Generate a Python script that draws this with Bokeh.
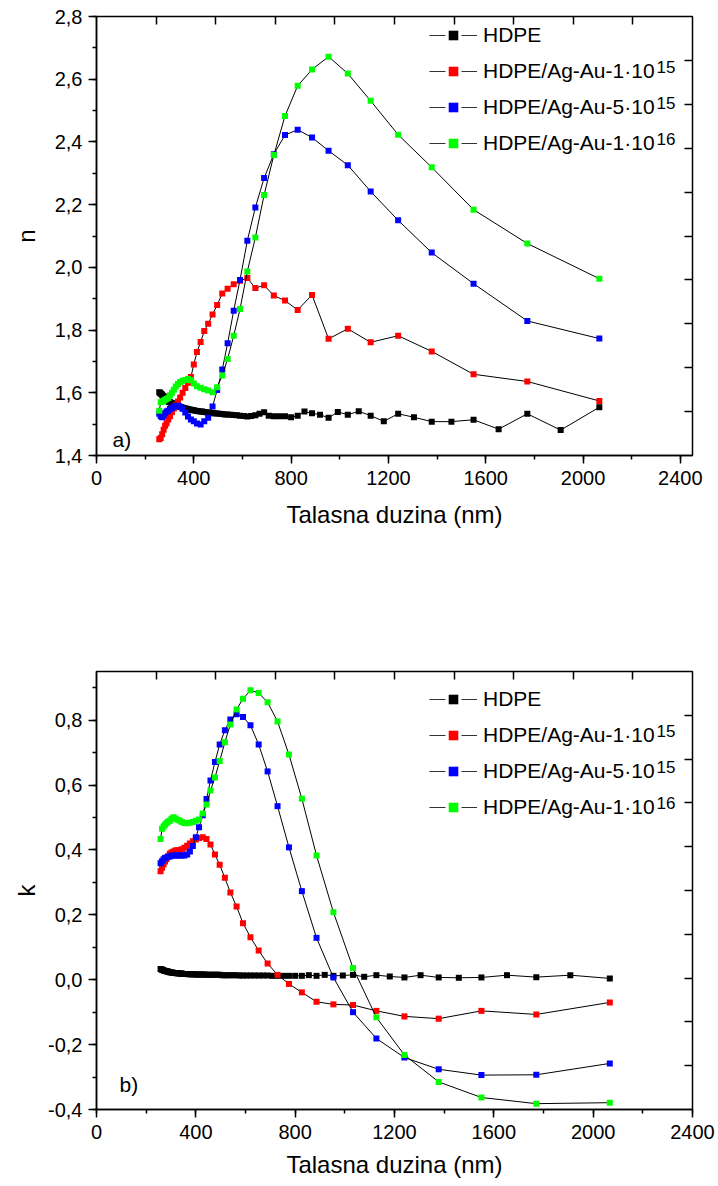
from bokeh.plotting import figure
from bokeh.models import (Range1d, LinearAxis, SingleIntervalTicker, FixedTicker,
                          CustomJSTickFormatter, Legend, LegendItem, Label)
from bokeh.layouts import column
from bokeh.embed import file_html
from bokeh.resources import INLINE

# ---------------- data ----------------
# wavelength grid (nm) of the implanted samples
wl_implanted = [258, 264, 270, 276, 282, 288, 295, 302, 310, 318, 326, 335, 344, 354,
                365, 376, 388, 400, 413, 428, 443, 459, 477, 496, 517, 539, 564, 590,
                620, 653, 689, 729, 775, 827, 886, 954, 1033, 1127, 1240, 1378, 1550,
                1771, 2067]
# wavelength grid (nm) of pristine HDPE
wl_hdpe = [258, 261, 264, 267, 270, 273, 276, 279, 282, 285,
           288, 292, 295, 298, 302, 306, 310, 314, 318, 322,
           326, 331, 335, 340, 344, 349, 354, 360, 365, 370,
           376, 382, 388, 394, 400, 407, 413, 420, 428, 435,
           443, 451, 459, 468, 477, 486, 496, 506, 517, 527,
           539, 551, 564, 577, 590, 605, 620, 636, 653, 670,
           689, 708, 729, 751, 775, 800, 827, 855, 886, 919,
           954, 992, 1033, 1078, 1127, 1181, 1240, 1305, 1378, 1459,
           1550, 1653, 1771, 1908, 2067]

# refractive index n
n_hdpe = [1.602, 1.600, 1.598, 1.596, 1.593, 1.590, 1.588, 1.585, 1.582, 1.579,
          1.577, 1.575, 1.573, 1.571, 1.570, 1.568, 1.567, 1.566, 1.565, 1.563,
          1.562, 1.560, 1.558, 1.557, 1.555, 1.554, 1.552, 1.551, 1.550, 1.549,
          1.548, 1.547, 1.546, 1.545, 1.544, 1.543, 1.542, 1.541, 1.540, 1.540,
          1.539, 1.538, 1.537, 1.536, 1.535, 1.535, 1.534, 1.533, 1.532, 1.531,
          1.531, 1.530, 1.529, 1.528, 1.527, 1.526, 1.524, 1.526, 1.528, 1.533,
          1.538, 1.527, 1.525, 1.525, 1.525, 1.522, 1.527, 1.540, 1.535, 1.530,
          1.520, 1.539, 1.530, 1.541, 1.527, 1.509, 1.533, 1.522, 1.508, 1.508,
          1.514, 1.484, 1.533, 1.481, 1.554]
n_1e15 = [1.452, 1.456, 1.468, 1.482, 1.495, 1.503, 1.515, 1.525, 1.538, 1.550, 1.560,
          1.572, 1.585, 1.600, 1.615, 1.632, 1.650, 1.690, 1.730, 1.762, 1.797, 1.820,
          1.850, 1.880, 1.917, 1.932, 1.946, 1.957, 1.966, 1.934, 1.943, 1.910, 1.894,
          1.864, 1.912, 1.772, 1.804, 1.761, 1.782, 1.732, 1.659, 1.636, 1.574]
n_5e15 = [1.533, 1.525, 1.522, 1.528, 1.535, 1.540, 1.543, 1.548, 1.552, 1.556, 1.558,
          1.559, 1.555, 1.549, 1.537, 1.524, 1.515, 1.509, 1.502, 1.499, 1.509, 1.520,
          1.556, 1.609, 1.674, 1.758, 1.862, 1.960, 2.085, 2.191, 2.285, 2.361, 2.422,
          2.439, 2.414, 2.372, 2.326, 2.242, 2.150, 2.047, 1.948, 1.829, 1.773]
n_1e16 = [1.543, 1.570, 1.572, 1.575, 1.578, 1.580, 1.583, 1.592, 1.600, 1.610, 1.620,
          1.628, 1.634, 1.638, 1.641, 1.644, 1.640, 1.630, 1.621, 1.616, 1.611, 1.607,
          1.602, 1.618, 1.655, 1.708, 1.782, 1.867, 1.987, 2.095, 2.231, 2.358, 2.483,
          2.579, 2.631, 2.672, 2.618, 2.531, 2.423, 2.319, 2.184, 2.076, 1.964]

# extinction coefficient k
k_hdpe = [0.033, 0.032, 0.031, 0.030, 0.029, 0.028, 0.027, 0.027, 0.026, 0.025,
          0.025, 0.024, 0.023, 0.023, 0.022, 0.022, 0.021, 0.021, 0.021, 0.020,
          0.020, 0.020, 0.019, 0.019, 0.019, 0.018, 0.018, 0.018, 0.018, 0.017,
          0.017, 0.017, 0.017, 0.017, 0.016, 0.016, 0.016, 0.016, 0.016, 0.016,
          0.015, 0.015, 0.015, 0.015, 0.015, 0.015, 0.015, 0.014, 0.014, 0.014,
          0.014, 0.014, 0.014, 0.013, 0.013, 0.013, 0.013, 0.013, 0.013, 0.013,
          0.013, 0.012, 0.012, 0.012, 0.012, 0.012, 0.012, 0.014, 0.012, 0.015,
          0.012, 0.013, 0.015, 0.009, 0.014, 0.010, 0.007, 0.014, 0.007, 0.006,
          0.007, 0.014, 0.008, 0.014, 0.004]
k_1e15 = [0.334, 0.345, 0.356, 0.364, 0.372, 0.380, 0.388, 0.392, 0.395, 0.398, 0.399,
          0.400, 0.402, 0.407, 0.413, 0.420, 0.427, 0.432, 0.437, 0.439, 0.434, 0.417,
          0.386, 0.354, 0.314, 0.269, 0.226, 0.174, 0.131, 0.090, 0.050, 0.015, -0.013,
          -0.039, -0.068, -0.076, -0.078, -0.096, -0.113, -0.120, -0.096, -0.107, -0.070]
k_5e15 = [0.359, 0.365, 0.371, 0.375, 0.377, 0.379, 0.380, 0.382, 0.383, 0.383, 0.383,
          0.383, 0.383, 0.383, 0.386, 0.395, 0.412, 0.439, 0.470, 0.507, 0.557, 0.614,
          0.671, 0.725, 0.769, 0.802, 0.818, 0.810, 0.784, 0.725, 0.642, 0.535, 0.408,
          0.273, 0.129, 0.007, -0.100, -0.181, -0.240, -0.276, -0.294, -0.293, -0.258]
k_1e16 = [0.434, 0.465, 0.472, 0.478, 0.483, 0.487, 0.490, 0.496, 0.501, 0.497, 0.493,
          0.490, 0.486, 0.483, 0.482, 0.484, 0.486, 0.490, 0.494, 0.512, 0.540, 0.583,
          0.623, 0.674, 0.732, 0.787, 0.833, 0.866, 0.892, 0.884, 0.855, 0.796, 0.694,
          0.558, 0.383, 0.208, 0.036, -0.116, -0.232, -0.315, -0.363, -0.382, -0.379]

legend_main = ["HDPE", "HDPE/Ag-Au-1\u00b710", "HDPE/Ag-Au-5\u00b710", "HDPE/Ag-Au-1\u00b710"]
legend_sup = ["", "15", "15", "16"]
colors = ["#000000", "#ff0000", "#0000ff", "#00ff00"]
x_title = "Talasna duzina (nm)"

# ---------------- styling ----------------
FONT = "Liberation Sans"
FRAME_W = 596
LEFT = 96
RIGHT = 26
WIDTH = LEFT + FRAME_W + RIGHT
NAN = float("nan")

comma = CustomJSTickFormatter(code="""
    if (Math.abs(tick) < 1e-9) { return '0,0'; }
    return tick.toFixed(1).replace('.', ',');
""")
blank = CustomJSTickFormatter(code="return '';")


def make_panel(ylab, y0, y1, x1, height, top_b, bot_b, n_series, letter,
               letter_pos, legend_vy, ylab_standoff, xlab_standoff):
    p = figure(width=WIDTH, height=height, x_range=Range1d(0, x1), y_range=Range1d(y0, y1),
               output_backend="svg", toolbar_location=None,
               min_border_left=LEFT, min_border_right=RIGHT,
               min_border_top=top_b, min_border_bottom=bot_b,
               x_axis_type=None, y_axis_type=None)
    p.outline_line_color = "black"
    p.outline_line_width = 1.5
    p.background_fill_color = "white"
    p.border_fill_color = "white"

    xa = LinearAxis(ticker=SingleIntervalTicker(interval=400, num_minor_ticks=2),
                    axis_label=x_title)
    ya = LinearAxis(ticker=SingleIntervalTicker(interval=0.2, num_minor_ticks=2),
                    formatter=comma, axis_label=ylab)
    for ax, st, ls in ((xa, xlab_standoff, 7), (ya, ylab_standoff, 6)):
        ax.axis_line_width = 1.5
        ax.major_tick_line_width = 1.5
        ax.minor_tick_line_width = 1.5
        ax.major_tick_out = 8
        ax.major_tick_in = 0
        ax.minor_tick_out = 4
        ax.minor_tick_in = 0
        ax.major_label_standoff = ls
        ax.major_label_text_font = FONT
        ax.major_label_text_font_size = "20px"
        ax.major_label_text_color = "black"
        ax.axis_label_text_font = FONT
        ax.axis_label_text_font_size = "24px"
        ax.axis_label_text_font_style = "normal"
        ax.axis_label_text_color = "black"
        ax.axis_label_standoff = st
    p.add_layout(xa, "below")
    p.add_layout(ya, "left")

    # tick-only mirror axes (10 divisions each)
    p.extra_x_ranges = {"div": Range1d(0, 10)}
    p.extra_y_ranges = {"div": Range1d(0, 10)}
    ta = LinearAxis(x_range_name="div", ticker=FixedTicker(ticks=list(range(1, 10))),
                    formatter=blank)
    ra = LinearAxis(y_range_name="div", ticker=FixedTicker(ticks=list(range(1, 10))),
                    formatter=blank)
    for ax in (ta, ra):
        ax.axis_line_color = None
        ax.major_tick_in = 8
        ax.major_tick_out = 0
        ax.minor_tick_in = 0
        ax.minor_tick_out = 0
        ax.major_tick_line_width = 1.5
        ax.major_label_standoff = 0
        ax.major_label_text_font_size = "1px"
    p.add_layout(ta, "above")
    p.add_layout(ra, "right")

    items = []
    xs_list = [wl_hdpe, wl_implanted, wl_implanted, wl_implanted]
    for xs, ys, c, lab in zip(xs_list, n_series, colors, legend_main):
        p.line(xs, ys, line_color="black", line_width=1)
        sc = p.scatter(xs, ys, marker="square", size=6, fill_color=c, line_color=None)
        # legend-only line sample, broken around the symbol (Origin style)
        key_line = p.line(x=[NAN], y=[NAN], line_color="#333333", line_width=1,
                          line_dash="16 16")
        items.append(LegendItem(label=lab, renderers=[key_line, sc]))

    leg = Legend(items=items, location=(333, legend_vy), orientation="vertical",
                 padding=0, margin=0, spacing=12, glyph_width=48, glyph_height=24,
                 label_height=24, label_standoff=6, label_text_font=FONT,
                 label_text_font_size="21px", label_text_color="black",
                 border_line_alpha=0, background_fill_alpha=0)
    p.add_layout(leg)

    leg_h = 4 * 24 + 3 * 12
    for i, s in enumerate(legend_sup):
        if not s:
            continue
        p.add_layout(Label(x=560, y=legend_vy + leg_h - (12 + i * 36) + 5,
                           x_units="screen", y_units="screen", text=s,
                           text_font=FONT, text_font_size="17px",
                           text_baseline="alphabetic", text_align="left",
                           text_color="black"))

    p.add_layout(Label(x=letter_pos[0], y=letter_pos[1], x_units="screen", y_units="screen",
                       text=letter, text_font=FONT, text_font_size="21px",
                       text_baseline="alphabetic", text_color="black"))
    return p


p1 = make_panel("n", 1.4, 2.8 + 1e-6, 2450, 568, 16, 113,
                [n_hdpe, n_1e15, n_5e15, n_1e16], "a)", (16, 16), 300, 12, 13)
p2 = make_panel("k", -0.4, 0.95, 2400, 618, 103, 77,
                [k_hdpe, k_1e15, k_5e15, k_1e16], "b)", (23, 25), 290, 5, 9)

layout = column(p1, p2, spacing=0)
open("out.html", "w").write(file_html(layout, INLINE))
